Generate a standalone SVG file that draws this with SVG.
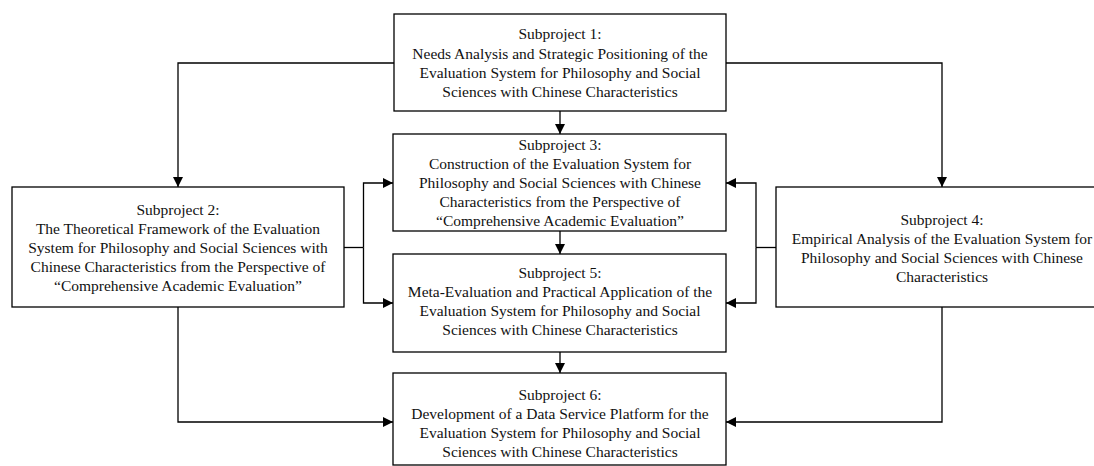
<svg xmlns="http://www.w3.org/2000/svg" width="1094" height="466" viewBox="0 0 1094 466">
<defs>
<style>
.box{fill:#fff;stroke:#000;stroke-width:1.3}
.t{font-size:15.5px;fill:#111;text-anchor:middle}
.c{fill:none;stroke:#000;stroke-width:1.3}
</style>
<marker id="ah" viewBox="0 0 10 10" refX="10" refY="5" markerWidth="10" markerHeight="10" markerUnits="userSpaceOnUse" orient="auto">
<path d="M0,0 L10,5 L0,10 z" fill="#000"/>
</marker>
</defs>
<rect width="1094" height="466" fill="#fff"/>
<g id="connectors">
<path class="c" d="M394,63 H178 V187" marker-end="url(#ah)"/>
<path class="c" d="M726,63 H942 V187" marker-end="url(#ah)"/>
<path class="c" d="M560,111 V134" marker-end="url(#ah)"/>
<path class="c" d="M560,231 V254" marker-end="url(#ah)"/>
<path class="c" d="M560,352 V373" marker-end="url(#ah)"/>
<path class="c" d="M344,247.5 H363.5"/>
<path class="c" d="M363.5,247.5 V183 H393" marker-end="url(#ah)"/>
<path class="c" d="M363.5,247.5 V303 H393" marker-end="url(#ah)"/>
<path class="c" d="M776,247.5 H756"/>
<path class="c" d="M756,247.5 V183 H726" marker-end="url(#ah)"/>
<path class="c" d="M756,247.5 V303 H726" marker-end="url(#ah)"/>
<path class="c" d="M178,307 V422 H393" marker-end="url(#ah)"/>
<path class="c" d="M942,307 V422 H726" marker-end="url(#ah)"/>
</g>
<g font-family="Liberation Serif, Times New Roman, DejaVu Serif, serif">
<g id="n1">
<rect class="box" x="394" y="14" width="332" height="97"/>
<text class="t" x="560" y="39">Subproject 1:</text>
<text class="t" x="560" y="58.5">Needs Analysis and Strategic Positioning of the</text>
<text class="t" x="560" y="77.5">Evaluation System for Philosophy and Social</text>
<text class="t" x="560" y="96.5">Sciences with Chinese Characteristics</text>
</g>
<g id="n2">
<rect class="box" x="12" y="187" width="332" height="120"/>
<text class="t" x="178" y="215">Subproject 2:</text>
<text class="t" x="178" y="234">The Theoretical Framework of the Evaluation</text>
<text class="t" x="178" y="253">System for Philosophy and Social Sciences with</text>
<text class="t" x="178" y="272">Chinese Characteristics from the Perspective of</text>
<text class="t" x="178" y="291">“Comprehensive Academic Evaluation”</text>
</g>
<g id="n3">
<rect class="box" x="393" y="134" width="333" height="97"/>
<text class="t" x="560" y="149.5">Subproject 3:</text>
<text class="t" x="560" y="168.5">Construction of the Evaluation System for</text>
<text class="t" x="560" y="187.5">Philosophy and Social Sciences with Chinese</text>
<text class="t" x="560" y="206.5">Characteristics from the Perspective of</text>
<text class="t" x="560" y="225.5">“Comprehensive Academic Evaluation”</text>
</g>
<g id="n4">
<rect class="box" x="776" y="187" width="332" height="120"/>
<text class="t" x="942" y="224.5">Subproject 4:</text>
<text class="t" x="942" y="243.5">Empirical Analysis of the Evaluation System for</text>
<text class="t" x="942" y="262.5">Philosophy and Social Sciences with Chinese</text>
<text class="t" x="942" y="281.5">Characteristics</text>
</g>
<g id="n5">
<rect class="box" x="393" y="254" width="333" height="98"/>
<text class="t" x="560" y="278">Subproject 5:</text>
<text class="t" x="560" y="297">Meta-Evaluation and Practical Application of the</text>
<text class="t" x="560" y="316">Evaluation System for Philosophy and Social</text>
<text class="t" x="560" y="335">Sciences with Chinese Characteristics</text>
</g>
<g id="n6">
<rect class="box" x="393" y="373" width="333" height="92"/>
<text class="t" x="560" y="399.5">Subproject 6:</text>
<text class="t" x="560" y="418.5">Development of a Data Service Platform for the</text>
<text class="t" x="560" y="437.5">Evaluation System for Philosophy and Social</text>
<text class="t" x="560" y="456.5">Sciences with Chinese Characteristics</text>
</g>
</g>
</svg>
